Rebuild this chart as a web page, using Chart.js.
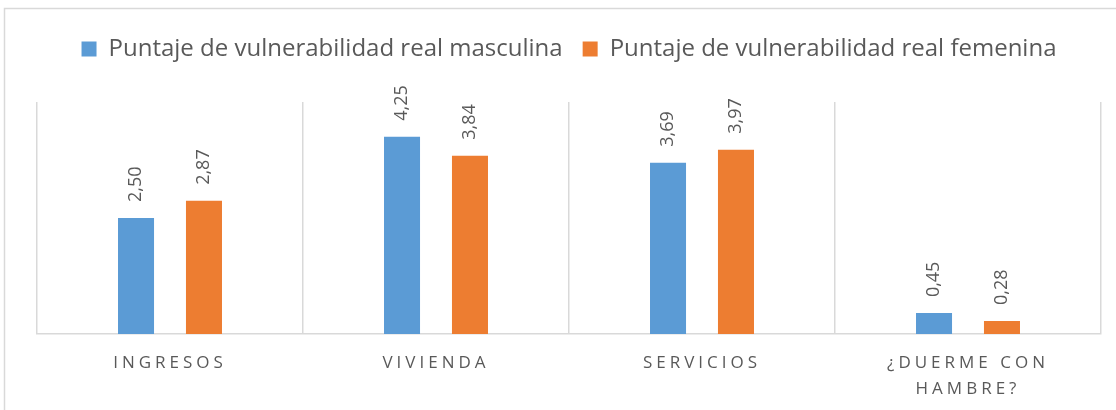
<!DOCTYPE html>
<html>
<head>
<meta charset="utf-8">
<script src="https://cdn.jsdelivr.net/npm/chart.js@4"></script>
<style>
  html, body { margin: 0; padding: 0; background: #fff; }
  #wrap { width: 1116px; height: 410px; position: relative; }
</style>
</head>
<body>
<div id="wrap"><canvas id="vulnChart"></canvas></div>
<script>
// categories and values
const categories = ['INGRESOS', 'VIVIENDA', 'SERVICIOS', ['¿DUERME CON', 'HAMBRE?']];
const masculina = [2.50, 4.25, 3.69, 0.45];
const femenina = [2.87, 3.84, 3.97, 0.28];
const seriesNames = ['Puntaje de vulnerabilidad real masculina', 'Puntaje de vulnerabilidad real femenina'];
const yMax = 5;

const textGrey = '#595959';
const gridGrey = '#d9d9d9';
const fontFamily = '"Open Sans", "Liberation Sans", sans-serif';

// outer frame of the original chart object (left + top edges only are visible)
const framePlugin = {
    id: 'frame',
    beforeDraw(chart) {
        const ctx = chart.ctx;
        ctx.save();
        ctx.fillStyle = '#fff';
        ctx.fillRect(0, 0, chart.width, chart.height);
        ctx.strokeStyle = gridGrey;
        ctx.lineWidth = 1.5;
        ctx.beginPath();
        ctx.moveTo(4.5, chart.height);
        ctx.lineTo(4.5, 8.5);
        ctx.lineTo(chart.width, 8.5);
        ctx.stroke();
        ctx.restore();
    }
};

// rotated value labels above the bars, then letter spacing for the category labels
const valueLabels = {
    id: 'valueLabels',
    afterDatasetsDraw(chart) {
        const ctx = chart.ctx;
        ctx.save();
        ctx.font = '18px ' + fontFamily;
        ctx.fillStyle = textGrey;
        ctx.textAlign = 'left';
        ctx.textBaseline = 'middle';
        chart.data.datasets.forEach((ds, di) => {
            chart.getDatasetMeta(di).data.forEach((bar, i) => {
                ctx.save();
                ctx.translate(bar.x, bar.y - 16);
                ctx.rotate(-Math.PI / 2);
                ctx.fillText(ds.data[i].toFixed(2).replace('.', ','), 0, 0);
                ctx.restore();
            });
        });
        ctx.restore();
        ctx.letterSpacing = '4px';
    },
    afterDraw(chart) {
        chart.ctx.letterSpacing = '0px';
    }
};

const ctx = document.getElementById('vulnChart');
new Chart(ctx, {
    type: 'bar',
    data: {
        labels: categories,
        datasets: [{
            label: seriesNames[0],
            data: masculina,
            backgroundColor: '#5b9bd5'
        }, {
            label: seriesNames[1],
            data: femenina,
            backgroundColor: '#ed7d31'
        }]
    },
    options: {
        responsive: true,
        maintainAspectRatio: false,
        animation: false,
        categoryPercentage: 0.511,
        barPercentage: 0.53,
        layout: {
            padding: { left: 37, right: 15, top: 17, bottom: 0 }
        },
        scales: {
            x: {
                offset: true,
                grid: { offset: true, color: gridGrey, drawTicks: false, lineWidth: 1.5 },
                border: { color: gridGrey, width: 1.5 },
                ticks: {
                    color: textGrey,
                    padding: 16,
                    z: 1,
                    maxRotation: 0,
                    minRotation: 0,
                    autoSkip: false,
                    font: { family: fontFamily, size: 17, lineHeight: 26 / 17 }
                },
                afterFit(scale) { scale.height = 76; }
            },
            xTop: {
                type: 'category',
                position: 'top',
                grid: { display: false },
                border: { display: false },
                ticks: { display: false },
                afterFit(scale) { scale.height = 31; }
            },
            y: {
                display: false,
                min: 0,
                max: yMax
            }
        },
        plugins: {
            legend: {
                position: 'top',
                labels: {
                    boxWidth: 15,
                    boxHeight: 15,
                    padding: 20,
                    color: textGrey,
                    font: { family: fontFamily, size: 24 }
                }
            },
            tooltip: { enabled: false }
        }
    },
    plugins: [framePlugin, valueLabels]
});
</script>
</body>
</html>
